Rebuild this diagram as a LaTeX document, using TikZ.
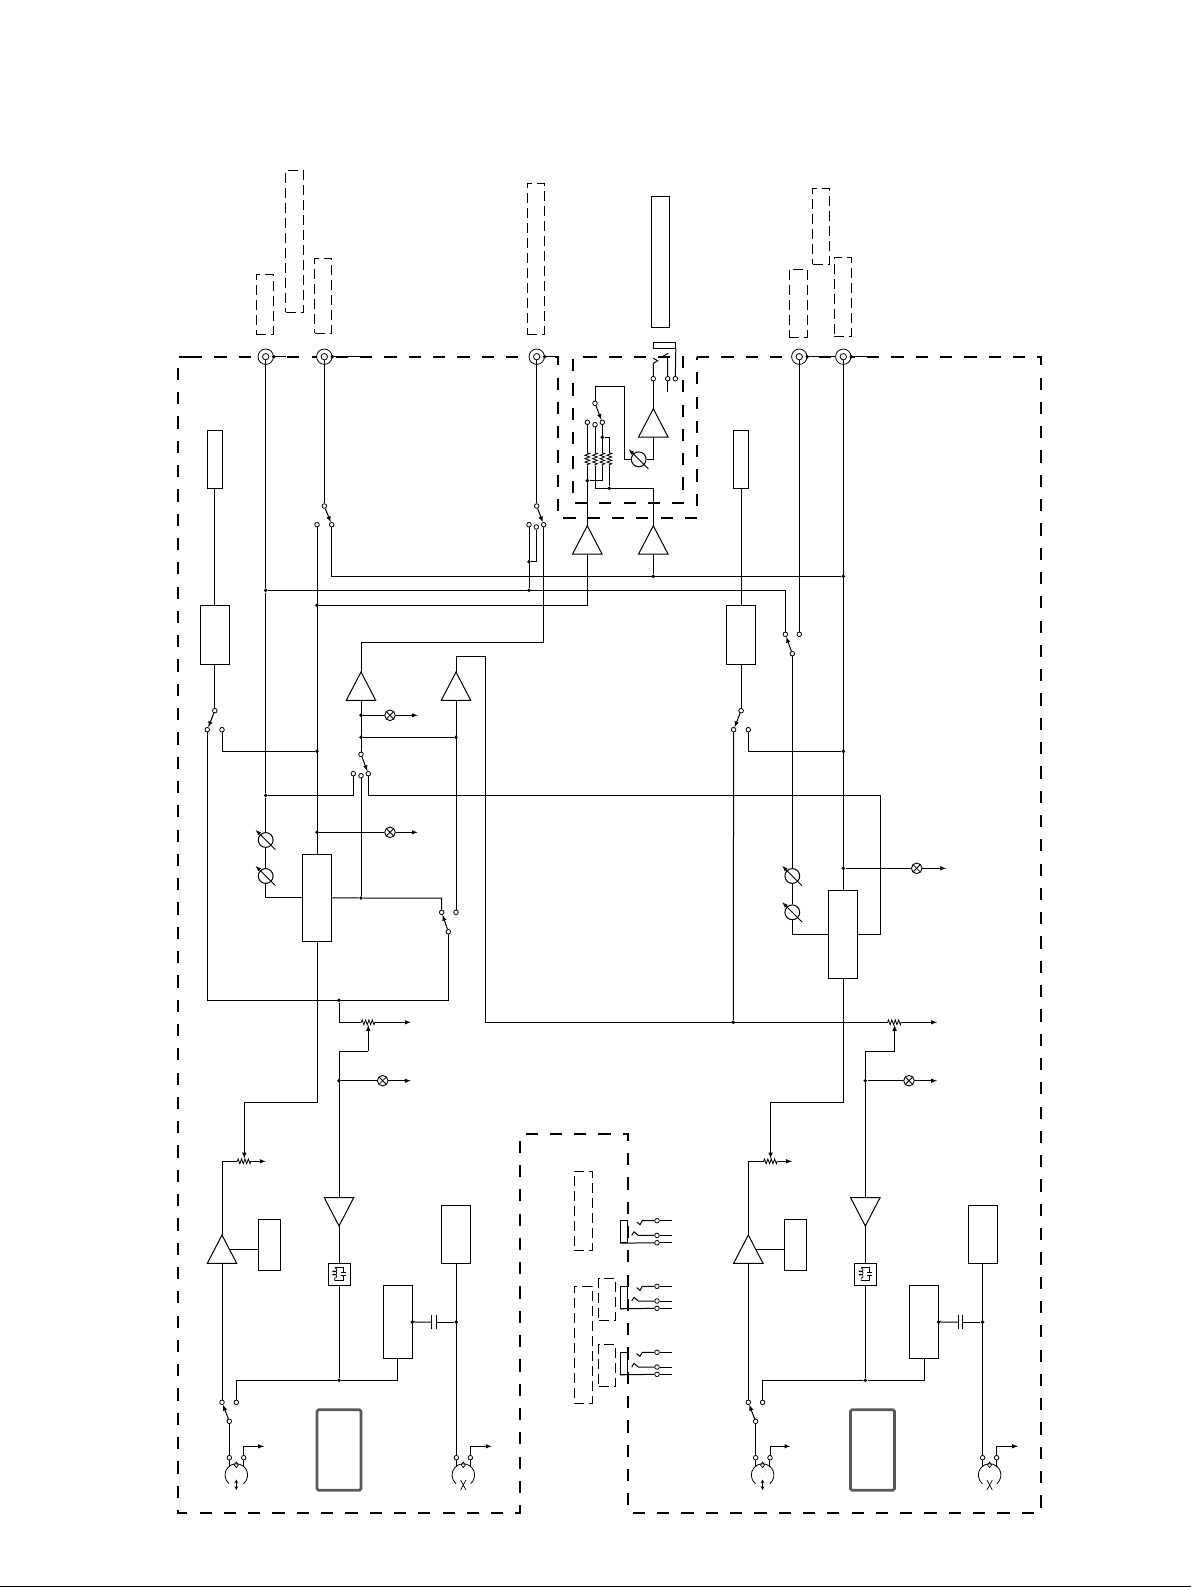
\documentclass[tikz,border=0pt]{standalone}
\usepackage{amsmath}
\usetikzlibrary{decorations.pathmorphing}
\tikzstyle{plainbox} = [draw=black, fill=white, rectangle, inner sep=0pt]
\tikzstyle{dashbox} = [draw=black, rectangle, inner sep=0pt, line width=.9pt, dash pattern=on 10pt off 5pt]
\tikzstyle{dashframe} = [draw=black, line width=2pt, dash pattern=on 12.2pt off 12.1pt]
\tikzstyle{term} = [draw=black, fill=white, circle, inner sep=0pt, line width=.8pt, minimum size=4.6pt]
\tikzstyle{jdot} = [fill=black, circle, inner sep=0pt, minimum size=3.8pt]
\tikzstyle{bncout} = [draw=black, fill=white, circle, inner sep=0pt, line width=.8pt, minimum size=15.4pt]
\tikzstyle{bncin} = [draw=black, fill=white, circle, inner sep=0pt, line width=.8pt, minimum size=6.4pt]
\tikzstyle{lampsym} = [draw=black, fill=white, circle, inner sep=0pt, line width=.9pt, minimum size=10.6pt,
    path picture={\draw[line width=.8pt] (path picture bounding box.north west) -- (path picture bounding box.south east)
    (path picture bounding box.north east) -- (path picture bounding box.south west);}]
\tikzstyle{arm} = [-latex]
\tikzstyle{zig} = [decorate, decoration={zigzag, segment length=3.4pt, amplitude=2.4pt}, line width=.8pt]
\tikzset{
    pics/ampup/.style={code={
        \draw (0,0) -- (-14.7,28.3) -- (14.7,28.3) -- cycle;
        \coordinate (-top) at (0,0);
        \coordinate (-bot) at (0,28.3);
        \coordinate (-side) at (7.4,14.3);
    }},
    pics/ampdown/.style={code={
        \draw (0,28.3) -- (-14.7,0) -- (14.7,0) -- cycle;
        \coordinate (-top) at (0,0);
        \coordinate (-bot) at (0,28.3);
    }},
    pics/metersym/.style={code={
        \node[plainbox, circle, minimum size=14.8pt] (-c) at (0,0) {};
        \draw[arm, line width=.9pt] (9.7,9.7) -- (-10,-10);
    }},
    pics/potsym/.style={code={
        \coordinate (-w) at (-7,0);
        \coordinate (-e) at (7,0);
        \draw[zig] (-w) -- (-e);
    }},
    pics/knobsym/.style={code={
        \draw[line width=.8pt] (-7.26,8.66) arc[start angle=230, end angle=-50, radius=11.3pt];
        \draw[line width=.7pt] (0,-13) -- (-2,-10) -- (0,-7.5) -- (2,-10) -- cycle;
        \draw[line width=.7pt] (-7.2,-15) -- (-7.2,-8) (7.2,-15) -- (7.2,-8);
        #1
    }},
}

\begin{document}
\begin{tikzpicture}[x=1pt, y=-1pt, line width=1pt]
    \useasboundingbox (0,0) rectangle (1191,1587);
    \draw (0,1586.5) -- (1191,1586.5);
    % frames
    \draw[dashframe] (190,356.7) -- (558,356.7) -- (558,518) -- (697,518) -- (697,356.7);
    \draw[dashframe] (697,356.7) -- (1040.7,356.7) -- (1040.7,1512.7) -- (628,1512.7) -- (628,1134) -- (520,1134)
        -- (520,1512.7) -- (178,1512.7) -- (178,356.7) -- (190,356.7);
    \draw[dashframe] (585,356.7) -- (683,356.7) -- (683,503) -- (573,503) -- (573,356.7) -- (585,356.7);
    \foreach \n/\cx/\cy/\w/\h in {da/264.8/304.3/17/60, db/294.5/241.2/17.6/142.3, dc/323.2/295.8/17/75, dd/535.8/258.8/17/151,
        de/798.3/303.3/18/68, df/821/226.3/16.6/76, dg/842.8/296.8/17/79, dh/583.3/1210.8/18/79,
        di/583.3/1344.8/18/117, dj/607/1299.3/16.6/42, dk/607/1365.3/16.6/42}{
        \node[dashbox, minimum width=\w pt, minimum height=\h pt] (\n) at (\cx,\cy) {};
    }
    % connectors on the top edge
    \foreach \n/\x/\e in {c1/265.7/286, c2/324.3/361, c3/536.7/558, c4/799.3/835, c5/843.3/870}{
        \coordinate (\n-e) at (\e,356.7);
        \draw (\x,356.7) -- (\n-e);
        \node[bncout] (\n) at (\x,356.7) {};
        \node[bncin] (\n-i) at (\x,356.7) {};
        \node[jdot] (\n-d) at (\x+8,356.7) {};
    }
    % both channels
    \foreach \off/\ch/\dx in {0/l/339, 526.3/r/346.2}{
    \begin{scope}[xshift=\off]
        \node[plainbox, minimum width=15pt, minimum height=58pt] (\ch-out) at (214.8,459.3) {};
        \node[plainbox, minimum width=29.3pt, minimum height=59pt] (\ch-drv) at (214.8,634.8) {};
        \node[term] (\ch-swc) at (214.8,710.7) {};
        \node[term] (\ch-swa) at (207.3,729.7) {};
        \node[term] (\ch-swb) at (222,729.7) {};
        \draw (\ch-out) -- (\ch-drv);
        \draw (\ch-drv) -- (\ch-swc);
        \draw[arm] (\ch-swc) -- (\ch-swa);
        % volume and output
        \pic (\ch-pota) at (244.3,1161.3) {potsym};
        \pic (\ch-potb) at (368.3,1022.3) {potsym};
        \coordinate (\ch-pa) at (244.3,1102.3);
        \coordinate (\ch-pb) at (368.3,1051.3);
        \coordinate (\ch-pac) at (244.3,1158.5);
        \coordinate (\ch-pbc) at (368.3,1025);
        \coordinate (\ch-oa) at (265.7,1161.3);
        \coordinate (\ch-ob) at (410.7,1022.3);
        \coordinate (\ch-oc) at (410.7,1080.7);
        \coordinate (\ch-od) at (264,1446.3);
        \coordinate (\ch-oe) at (491.7,1446.3);
        \draw[arm] (\ch-pa) -- (\ch-pac);
        \draw[arm] (\ch-pb) -- (\ch-pbc);
        \draw[arm] (\ch-pota-e) -- (\ch-oa);
        \draw[arm] (\ch-potb-e) -- (\ch-ob);
        \pic (\ch-tr1) at (222,1235) {ampup};
        \pic (\ch-tr2) at (339,1197.7) {ampdown};
        \node[plainbox, minimum width=22pt, minimum height=51pt] (\ch-aux) at (269.3,1244.8) {};
        \node[plainbox, minimum width=22pt, minimum height=22pt] (\ch-tank) at (339,1274.3) {};
        \node[plainbox, minimum width=29pt, minimum height=73pt] (\ch-reg) at (397.8,1321.8) {};
        \node[plainbox, minimum width=29pt, minimum height=58.3pt] (\ch-lim) at (456.3,1234.2) {};
        \node[plainbox, rounded corners=1.5pt, draw=black!65, line width=2.6pt, minimum width=44pt, minimum height=80.5pt] (\ch-disp) at (\dx,1450) {};
        \draw[decorate, decoration={coil, aspect=.6, segment length=3.2pt, amplitude=2pt}, line width=.7pt] (334.8,1267.8) -- (334.8,1280.8);
        \draw[line width=.7pt] (334.8,1267.8) -- (343.3,1267.8) -- (343.3,1272.8) (340.8,1272.8) -- (345.8,1272.8)
            (340.8,1275.4) -- (345.8,1275.4) (343.3,1275.4) -- (343.3,1280.8) -- (334.8,1280.8);
        \node[jdot] (\ch-jl) at (339,1080.7) {};
        \node[jdot] (\ch-jb) at (339,1380.3) {};
        \node[jdot] (\ch-jca) at (412.3,1322) {};
        \node[jdot] (\ch-jcb) at (456.3,1322) {};
        \node[lampsym] (\ch-lp) at (382.7,1080.7) {};
        \node[term] (\ch-k1a) at (222,1402.3) {};
        \node[term] (\ch-k1b) at (236.3,1402.3) {};
        \node[term] (\ch-k1c) at (229.3,1421.3) {};
        \node[term] (\ch-kn1l) at (229.3,1457.7) {};
        \node[term] (\ch-kn1r) at (243.7,1457.7) {};
        \node[term] (\ch-kn2l) at (456.3,1457.7) {};
        \node[term] (\ch-kn2r) at (470.3,1457.7) {};
        \pic (\ch-knb) at (236.3,1475) {knobsym={\draw[<->, >=stealth, line width=.7pt] (0,4.5) -- (0,15);}};
        \pic (\ch-kny) at (463.3,1475) {knobsym={\draw[line width=.7pt] (-2.7,5) -- (2.7,15) (2.7,5) -- (-2.7,15);}};
        \coordinate (\ch-cp1) at (431.7,1322);
        \coordinate (\ch-cp2) at (436,1322);
        \draw (\ch-pota-w) -| (\ch-tr1-top);
        \draw (\ch-tr1-bot) -- (\ch-k1a);
        \draw (\ch-tr1-side) -- (\ch-tr1-side -| \ch-aux.west);
        \draw (\ch-tr2-top) |- (\ch-pb);
        \draw (\ch-jl) -- (\ch-lp);
        \draw[arm] (\ch-lp) -- (\ch-oc);
        \draw (\ch-tr2-bot) -- (\ch-tank.north);
        \draw (\ch-tank.south) -- (\ch-jb);
        \draw (\ch-k1b) |- (\ch-jb) -| (\ch-reg.south);
        \draw[arm] (\ch-k1c) -- (\ch-k1a);
        \draw (\ch-k1c) -- (\ch-kn1l);
        \draw[arm] (\ch-kn1r) |- (\ch-od);
        \draw (\ch-lim.south) -- (\ch-kn2l);
        \draw[arm] (\ch-kn2r) |- (\ch-oe);
        \draw (\ch-reg.east) -- (\ch-jca) -- (\ch-cp1);
        \draw (\ch-cp2) -- (\ch-jcb);
        \draw (431.7,1315.3) -- (431.7,1328.7) (436,1315.3) -- (436,1328.7);
    \end{scope}
    }
    % left selector section
    \node[plainbox, minimum width=29pt, minimum height=87pt] (mix) at (317,897.8) {};
    \node[plainbox, minimum width=29pt, minimum height=88pt] (mixr) at (843.3,934.3) {};
    \pic (u1) at (361,672) {ampup};
    \pic (u2) at (456,672) {ampup};
    \pic (mt1) at (265.7,840) {metersym};
    \pic (mt2) at (265.7,876) {metersym};
    \pic (mt3) at (792.3,876) {metersym};
    \pic (mt4) at (792.3,912.3) {metersym};
    \foreach \n/\x/\y in {p1c/324.3/506, p1a/317/524.7, p1b/331.7/524.7, p2c/536.7/506, p2a/529/524.7, p2d/536.3/527, p2b/543.7/524.7,
        p3a/785.3/634.3, p3b/799.3/634.3, p3c/792.3/653.7, s3c/361/754.3, s3a/353.3/773.7, s3d/361/775.7, s3b/368.3/773.7,
        s4a/441.7/912.3, s4b/456/912.3, s4c/448.3/931.7, n1/587.3/422.3, n2/595/424.7, n3/602.3/422.3, n4/595/403.3,
        q1/653.3/378.7, q2/667.7/378.7, q3/675.3/378.7}{
        \node[term] (\n) at (\x,\y) {};
    }
    \foreach \n/\x/\y in {j1/317/605.3, j2/529/561.7, j3/529/590.3, j4/265.7/590.3, j5/653.3/576.3, j6/843.3/576.3, j7/317/751.3,
        j8/265.7/795.3, j9/317/832.3, j10/361/715.3, j11/361/737.3, j12/456/737.3, j13/361/898, j14/339/1000.3, j15/733.3/1022.3,
        j16/843.3/751.3, j17/843.3/868.3, j20/587.3/480.7, j21/609.3/488.3, j22/602.3/437.3}{
        \node[jdot] (\n) at (\x,\y) {};
    }
    \node[lampsym] (lp1) at (390,715.3) {};
    \node[lampsym] (lp2) at (390,832.3) {};
    \node[lampsym] (lp3) at (916.7,868.3) {};
    \coordinate (o1) at (417.7,715.3);
    \coordinate (o2) at (417.7,832.3);
    \coordinate (o3) at (946,868.3);
    \coordinate (cu1) at (361,642.3);
    \coordinate (cu2) at (485.3,656.3);
    \coordinate (cr1) at (880.3,795.3);
    \coordinate (cb1) at (448.3,1000.3);
    \draw (c1-i) -- (j4) -- (j8) -- (mt1-c) -- (mt2-c);
    \draw (mt2-c) |- (mix.west);
    \draw (c2-i) -- (p1c);
    \draw[arm] (p1c) -- (p1b);
    \draw (p1a) -- (mix.north);
    \draw (p1b) |- (j6);
    \draw (j4) -| (p3a);
    \draw (p2a) -- (j3);
    \draw (j2) -| (p2d);
    \draw (c3-i) -- (p2c);
    \draw[arm] (p2c) -- (p2b);
    \draw (p2b) |- (cu1) -- (u1-top);
    \draw (u2-top) |- (cu2) |- (r-potb-w);
    \draw (u1-bot) -- (s3c);
    \draw (j11) -- (j12);
    \draw (j10) -- (lp1);
    \draw[arm] (lp1) -- (o1);
    \draw (j9) -- (lp2);
    \draw[arm] (lp2) -- (o2);
    \draw (u2-bot) -- (s4b);
    \draw[arm] (s3c) -- (s3b);
    \draw (s3a) |- (j8);
    \draw (s3d) -- (j13);
    \draw (s3b) |- (cr1) |- (mixr.east);
    \draw (mix.east) -- (j13) -| (s4a);
    \draw[arm] (s4c) -- (s4a);
    \draw (s4c) -- (cb1) -| (l-swa);
    \draw (l-swb) |- (j7);
    \draw (j14) |- (l-potb-w);
    \draw (mix.south) |- (l-pa);
    % right selector section
    \draw (r-swa) -- (j15);
    \draw (r-swb) |- (j16);
    \draw (c5-i) -- (mixr.north);
    \draw (j17) -- (lp3);
    \draw[arm] (lp3) -- (o3);
    \draw (c4-i) -- (p3b);
    \draw[arm] (p3c) -- (p3a);
    \draw (p3c) -- (mt3-c) -- (mt4-c);
    \draw (mt4-c) |- (mixr.west);
    \draw (mixr.south) |- (r-pa);
    % centre module
    \node[plainbox, minimum width=18pt, minimum height=130.7pt] (bigbox) at (660,261.7) {};
    \node[plainbox, minimum width=22pt, minimum height=6.4pt] (qbox) at (664.3,345.5) {};
    \pic (t1) at (587.3,525.7) {ampup};
    \pic (t2) at (653.3,525.7) {ampup};
    \pic (t3) at (653.3,408.7) {ampup};
    \pic (mt5) at (638.7,459.3) {metersym};
    \foreach \n/\x in {1/587.3, 2/595, 3/602.3, 4/609.3}{
        \coordinate (r\n a) at (\x,452.7);
        \coordinate (r\n b) at (\x,466);
        \draw[zig] (r\n a) -- (r\n b);
    }
    \coordinate (c21) at (653.3,488.3);
    \coordinate (c31) at (624.3,386.3);
    \draw (t1-bot) |- (j1);
    \draw (t2-bot) -- (j5);
    \draw (n1) -- (r1a);
    \draw (r1b) -- (t1-top);
    \draw (n2) -- (r2a);
    \draw (r2b) |- (c21) -- (t2-top);
    \draw (n3) -- (r3a);
    \draw (r3b) |- (j20);
    \draw (j22) -| (r4a);
    \draw (r4b) -- (j21);
    \draw[arm] (n4) -- (n3);
    \draw (n4) |- (c31) |- (mt5-c);
    \draw (mt5-c) -| (t3-bot);
    \draw (t3-top) -- (q1);
    \draw (qbox.south east) -- (q3);
    \coordinate (q1a) at (653.3,363.3);
    \coordinate (q2a) at (667.7,358.3);
    \coordinate (q2b) at (667.7,392.3);
    \draw (q1) -- (q1a) -- ++(4.4,-2.6) -- ++(-4.4,-2.4);
    \draw (q2) -- (q2a) -- ++(-3.7,-2.6) -- ++(4.3,-2.4);
    \draw (q2) -- (q2b);
    % jacks
    \foreach \j/\y in {a/1220.7, b/1286.3, c/1352.3}{
        \node[plainbox, minimum width=7.4pt, minimum height=22pt] (jk\j) at (624,\y+11) {};
        \node[term] (jk\j-1) at (657,\y) {};
        \node[term] (jk\j-2) at (657,\y+14.7) {};
        \node[term] (jk\j-3) at (657,\y+22) {};
        \coordinate (jk\j-e1) at (672,\y);
        \coordinate (jk\j-e2) at (672,\y+14.7);
        \coordinate (jk\j-e3) at (672,\y+22);
        \coordinate (jk\j-f1) at (642.3,\y);
        \coordinate (jk\j-f2) at (638.3,\y+14.7);
        \draw (jk\j-1) -- (jk\j-e1);
        \draw (jk\j-2) -- (jk\j-e2);
        \draw (jk\j-3) -- (jk\j-e3);
        \draw (jk\j-1) -- (jk\j-f1) -- ++(-2.3,4) -- ++(-3.3,-2.7);
        \draw (jk\j-2) -- (jk\j-f2) -- ++(-4.3,-3.6) -- ++(-2.3,3.6);
        \draw (jk\j-3) -- (jk\j.south west);
    }
\end{tikzpicture}
\end{document}
